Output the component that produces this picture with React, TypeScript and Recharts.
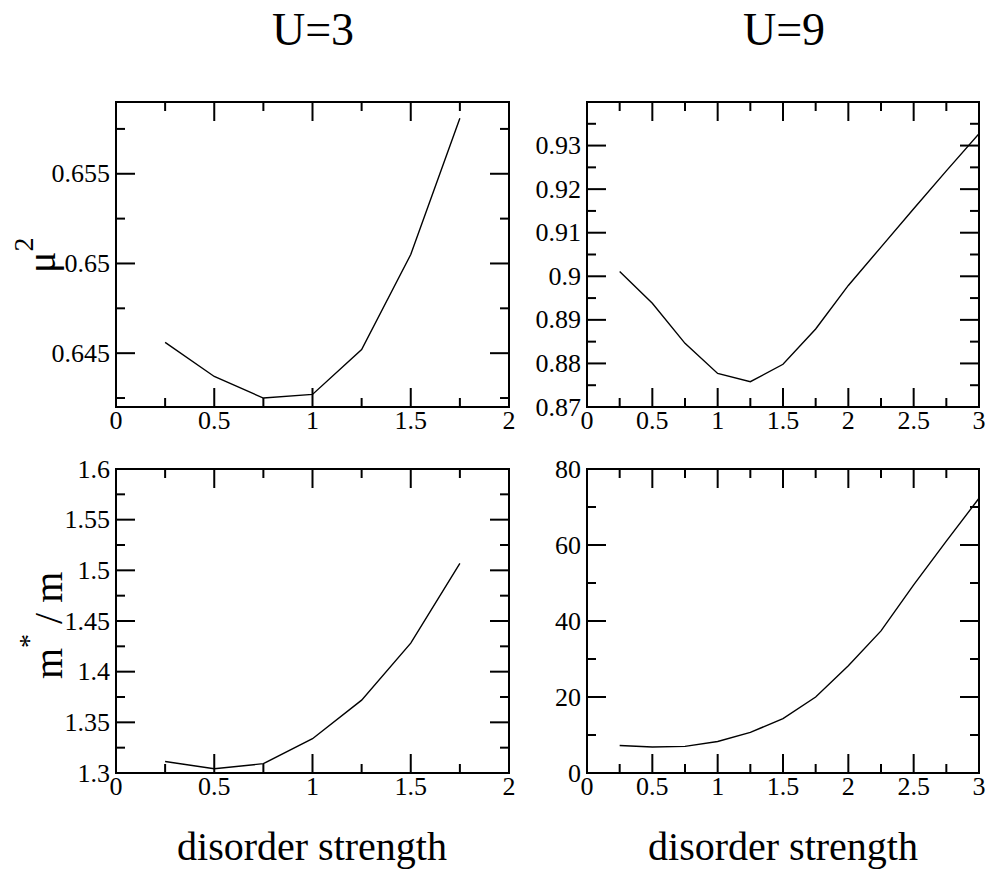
import { LineChart, Line, XAxis, YAxis, ReferenceArea } from "recharts";

// disorder strength values
const xU3 = [0.25, 0.5, 0.75, 1, 1.25, 1.5, 1.75];
const xU9 = [0.25, 0.5, 0.75, 1, 1.25, 1.5, 1.75, 2, 2.25, 2.5, 2.75, 3];

// mu^2 (top row)
const mu2U3 = [0.6456, 0.6437, 0.6425, 0.6427, 0.6452, 0.6505, 0.6581];
const mu2U9 = [0.9011, 0.8938, 0.8846, 0.8777, 0.8758, 0.8798, 0.8879, 0.8979, 0.9067, 0.9155, 0.9242, 0.9327];

// m*/m (bottom row)
const mstarU3 = [1.3114, 1.3042, 1.3092, 1.3338, 1.3719, 1.4282, 1.5069];
const mstarU9 = [7.25, 6.85, 7.0, 8.3, 10.7, 14.3, 20.0, 28.2, 37.4, 49.5, 61.0, 72.3];

// ticks
const xMajorU3 = [0, 0.5, 1, 1.5, 2];
const xMinorU3 = [0.25, 0.75, 1.25, 1.75];
const xMajorU9 = [0, 0.5, 1, 1.5, 2, 2.5, 3];
const xMinorU9 = [0.25, 0.75, 1.25, 1.75, 2.25, 2.75];

const yMajorMu3 = [0.645, 0.65, 0.655];
const yMinorMu3 = [0.6425, 0.6475, 0.6525, 0.6575];
const yMajorMu9 = [0.87, 0.88, 0.89, 0.9, 0.91, 0.92, 0.93];
const yMinorMu9 = [0.875, 0.885, 0.895, 0.905, 0.915, 0.925, 0.935];
const yMajorM3 = [1.3, 1.35, 1.4, 1.45, 1.5, 1.55, 1.6];
const yMinorM3 = [1.325, 1.375, 1.425, 1.475, 1.525, 1.575];
const yMajorM9 = [0, 20, 40, 60, 80];
const yMinorM9 = [10, 30, 50, 70];

const FONT = "Liberation Serif";
const TICK_FS = 26;
const M = { top: 15, right: 10, bottom: 10, left: 40 };
const YW = 70; // y axis width -> plot starts at M.left + YW
const XH = 35; // x axis height

interface PanelProps {
  plotX: number;
  plotY: number;
  plotW: number;
  plotH: number;
  xs: number[];
  ys: number[];
  xDomain: [number, number];
  yDomain: [number, number];
  xMajor: number[];
  xMinor: number[];
  yMajor: number[];
  yMinor: number[];
}

function Panel(p: PanelProps) {
  const data = p.xs.map((x, i) => ({ x, y: p.ys[i] }));
  const x0 = M.left + YW;
  const y0 = M.top;
  const yb = M.top + p.plotH;

  // ticks point inward and are mirrored on the opposite side of the frame
  const yTick = (t: any) => {
    const v = t.payload.value;
    const major = p.yMajor.includes(v);
    const len = major ? 19 : 9;
    return (
      <g>
        <line x1={x0} x2={x0 + len} y1={t.y} y2={t.y} stroke="#000" strokeWidth={2} />
        <line x1={x0 + p.plotW} x2={x0 + p.plotW - len} y1={t.y} y2={t.y} stroke="#000" strokeWidth={2} />
        {major && (
          <text x={x0 - 6} y={t.y} textAnchor="end" dominantBaseline="central" fontSize={TICK_FS} fontFamily={FONT} fill="#000">
            {String(v)}
          </text>
        )}
      </g>
    );
  };

  const xTick = (t: any) => {
    const v = t.payload.value;
    const major = p.xMajor.includes(v);
    const len = major ? 19 : 9;
    return (
      <g>
        <line x1={t.x} x2={t.x} y1={yb} y2={yb - len} stroke="#000" strokeWidth={2} />
        <line x1={t.x} x2={t.x} y1={y0} y2={y0 + len} stroke="#000" strokeWidth={2} />
        {major && (
          <text x={t.x} y={yb + 22} textAnchor="middle" fontSize={TICK_FS} fontFamily={FONT} fill="#000">
            {String(v)}
          </text>
        )}
      </g>
    );
  };

  return (
    <div style={{ position: "absolute", left: p.plotX - x0, top: p.plotY - M.top }}>
      <LineChart width={x0 + p.plotW + M.right} height={M.top + p.plotH + XH + M.bottom} data={data} margin={M}>
        <XAxis
          type="number"
          dataKey="x"
          domain={p.xDomain}
          ticks={[...p.xMajor, ...p.xMinor]}
          interval={0}
          height={XH}
          axisLine={false}
          tickLine={false}
          tick={xTick}
          allowDataOverflow
        />
        <YAxis
          type="number"
          domain={p.yDomain}
          ticks={[...p.yMajor, ...p.yMinor]}
          interval={0}
          width={YW}
          axisLine={false}
          tickLine={false}
          tick={yTick}
          allowDataOverflow
        />
        <ReferenceArea
          x1={p.xDomain[0]}
          x2={p.xDomain[1]}
          y1={p.yDomain[0]}
          y2={p.yDomain[1]}
          fill="none"
          stroke="#000"
          strokeWidth={2}
          ifOverflow="visible"
        />
        <Line type="linear" dataKey="y" stroke="#000" strokeWidth={1.4} dot={false} isAnimationActive={false} />
      </LineChart>
    </div>
  );
}

export default function App() {
  return (
    <div style={{ position: "absolute", left: 0, top: 0, width: 990, height: 871, background: "#fff", fontFamily: FONT }}>
      <Panel plotX={116} plotY={102} plotW={393} plotH={305} xs={xU3} ys={mu2U3} xDomain={[0, 2]} yDomain={[0.642, 0.659]}
        xMajor={xMajorU3} xMinor={xMinorU3} yMajor={yMajorMu3} yMinor={yMinorMu3} />
      <Panel plotX={587} plotY={102} plotW={392} plotH={305} xs={xU9} ys={mu2U9} xDomain={[0, 3]} yDomain={[0.87, 0.94]}
        xMajor={xMajorU9} xMinor={xMinorU9} yMajor={yMajorMu9} yMinor={yMinorMu9} />
      <Panel plotX={116} plotY={469} plotW={393} plotH={304} xs={xU3} ys={mstarU3} xDomain={[0, 2]} yDomain={[1.3, 1.6]}
        xMajor={xMajorU3} xMinor={xMinorU3} yMajor={yMajorM3} yMinor={yMinorM3} />
      <Panel plotX={587} plotY={469} plotW={392} plotH={304} xs={xU9} ys={mstarU9} xDomain={[0, 3]} yDomain={[0, 80]}
        xMajor={xMajorU9} xMinor={xMinorU9} yMajor={yMajorM9} yMinor={yMinorM9} />

      <svg width={990} height={871} style={{ position: "absolute", left: 0, top: 0, pointerEvents: "none" }}>
        <g fontFamily={FONT} fill="#000">
          <text x={313} y={45} textAnchor="middle" fontSize={46}>U=3</text>
          <text x={784} y={45} textAnchor="middle" fontSize={46}>U=9</text>
          <text x={312} y={860} textAnchor="middle" fontSize={40}>disorder strength</text>
          <text x={783} y={860} textAnchor="middle" fontSize={40}>disorder strength</text>
          <text transform="translate(55,273) rotate(-90)" fontSize={40}>
            μ<tspan fontSize={28} dy={-22}>2</tspan>
          </text>
          <text transform="translate(62,679) rotate(-90)" fontSize={40}>
            m<tspan fontSize={28} dy={-24}>*</tspan><tspan dy={24}> / m</tspan>
          </text>
        </g>
      </svg>
    </div>
  );
}
